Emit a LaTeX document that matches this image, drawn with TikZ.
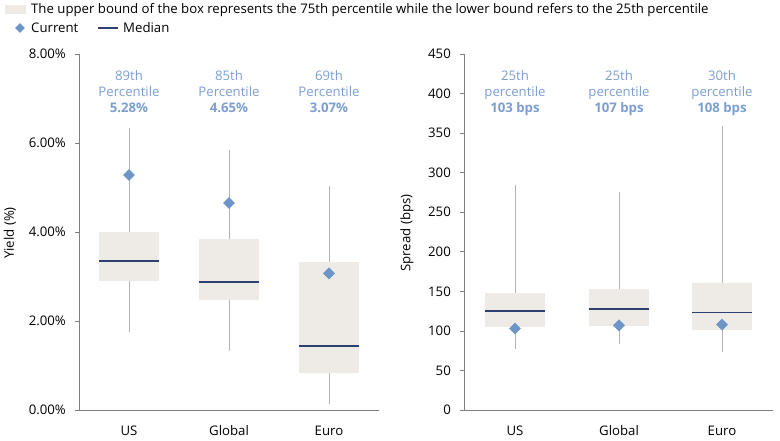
\documentclass[tikz,border=0pt]{standalone}
\usepackage{fontspec}
\setmainfont{Open Sans}
\usetikzlibrary{shapes.geometric, positioning}

\definecolor{boxfill}{HTML}{EEEBE6}
\definecolor{mediancol}{HTML}{2E3F73}
\definecolor{currentcol}{HTML}{6E95C7}
\definecolor{pctcol}{HTML}{7C9ED0}
\definecolor{whiskcol}{HTML}{B3B3B3}
\definecolor{axiscol}{HTML}{7F7F7F}

\begin{document}
\begin{tikzpicture}[
            x = 1pt, y = -1pt, % one unit is one pixel
            font = \fontsize{13.2}{16}\selectfont,
        ]
 \tikzstyle{boxstyle}=[fill = boxfill, draw = none]
 \tikzstyle{whisker}=[draw = whiskcol, line width = 1pt]
 \tikzstyle{medianline}=[draw = mediancol, line width = 1.5pt]
 \tikzstyle{axisline}=[draw = axiscol, line width = 0.8pt]
 \tikzstyle{currentmark}=[
            shape = diamond,
            fill = currentcol,
            inner sep = 0pt,
            minimum size = 12pt
        ]
 \tikzstyle{ticklabel}=[anchor = east, inner sep = 0pt]
 \tikzstyle{catlabel}=[inner sep = 0pt]
 \tikzstyle{pctlabel}=[align = center, text = pctcol, inner sep = 0pt]

\useasboundingbox (0,0) rectangle (780,440);

% legend
\fill[boxstyle] (5,5) rectangle (26,14);
\node[anchor = west, inner sep = 0pt] (legbox) at (31,10) {The upper bound of the box represents the 75th percentile while the lower bound refers to the 25th percentile};
\node[currentmark, minimum size = 10pt] (legcur) at (20,28) {};
\node[anchor = west, inner sep = 0pt] (legcurtext) at (31,28) {Current};
\coordinate (legmeda) at (98,28);
\coordinate (legmedb) at (118,28);
\draw[medianline, line width = 1.2pt] (legmeda) -- (legmedb);
\node[anchor = west, inner sep = 0pt, right = 5pt of legmedb] (legmedtext) {Median};

% yield panel
\coordinate (yorig) at (79,410);
\coordinate (ytop) at (79,54);
\coordinate (yend) at (379,410);
\draw[axisline] (ytop) -- (yorig) -- (yend);
\node[rotate = 90] (ytitle) at (10,233) {Yield (\%)};
\begin{scope}[shift = {(0,410)}, y = 44.5pt]
\foreach \v in {0,2,4,6,8} {
  \draw[axisline] (75,\v) -- (79,\v);
  \node[ticklabel] (ytick\v) at (66,\v) {\v.00\%};
}
\foreach \cx/\wt/\bt/\md/\bb/\wb/\cur/\nm in {
    129/6.34/4.00/3.35/2.90/1.75/5.28/US,
    229/5.84/3.84/2.88/2.47/1.33/4.65/Global,
    329/5.03/3.33/1.44/0.83/0.13/3.07/Euro} {
  \draw[whisker] (\cx,\wt) -- (\cx,\wb);
  \fill[boxstyle] (\cx-30,\bb) rectangle (\cx+30,\bt);
  \draw[medianline] (\cx-30,\md) -- (\cx+30,\md);
  \node[currentmark] (ycur\nm) at (\cx,\cur) {};
}
\end{scope}
\node[catlabel] (ycatUS) at (129,431) {US};
\node[catlabel] (ycatGlobal) at (229,431) {Global};
\node[catlabel] (ycatEuro) at (329,431) {Euro};
\node[pctlabel] (ypctUS) at (129,92) {89th\\Percentile\\\textbf{5.28\%}};
\node[pctlabel] (ypctGlobal) at (229,92) {85th\\Percentile\\\textbf{4.65\%}};
\node[pctlabel] (ypctEuro) at (329,92) {69th\\Percentile\\\textbf{3.07\%}};

% spread panel
\coordinate (sorig) at (464,410);
\coordinate (stop) at (464,54);
\coordinate (send) at (773,410);
\draw[axisline] (stop) -- (sorig) -- (send);
\node[rotate = 90] (stitle) at (407,233) {Spread (bps)};
\begin{scope}[shift = {(0,410)}, y = 0.791pt]
\foreach \v in {0,50,...,450} {
  \draw[axisline] (460,\v) -- (464,\v);
  \node[ticklabel] (stick\v) at (451,\v) {\v};
}
\foreach \cx/\wt/\bt/\md/\bb/\wb/\cur/\nm in {
    515/284/148/125/105/77/103/US,
    619/276/153/128/106/83/107/Global,
    722/359/160/123/101/73/108/Euro} {
  \draw[whisker] (\cx,\wt) -- (\cx,\wb);
  \fill[boxstyle] (\cx-30,\bb) rectangle (\cx+30,\bt);
  \draw[medianline] (\cx-30,\md) -- (\cx+30,\md);
  \node[currentmark] (scur\nm) at (\cx,\cur) {};
}
\end{scope}
\node[catlabel] (scatUS) at (515,431) {US};
\node[catlabel] (scatGlobal) at (619,431) {Global};
\node[catlabel] (scatEuro) at (722,431) {Euro};
\node[pctlabel] (spctUS) at (515,93) {25th\\percentile\\\textbf{103 bps}};
\node[pctlabel] (spctGlobal) at (619,93) {25th\\percentile\\\textbf{107 bps}};
\node[pctlabel] (spctEuro) at (722,93) {30th\\percentile\\\textbf{108 bps}};
\end{tikzpicture}
\end{document}
